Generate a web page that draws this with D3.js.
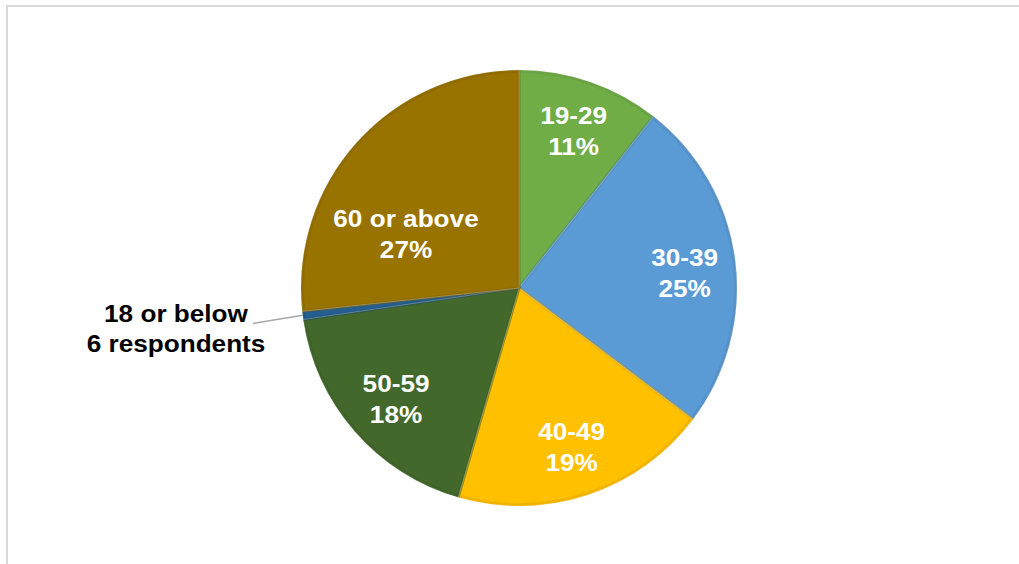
<!DOCTYPE html>
<html><head><meta charset="utf-8">
<script src="https://cdn.jsdelivr.net/npm/d3@7"></script>
<style>html,body{margin:0;padding:0;background:#fff;}svg{display:block;}</style>
</head><body>
<svg id="chart" width="1019" height="564"></svg>
<script>
const categories = ["19-29", "30-39", "40-49", "50-59", "18 or below", "60 or above"];
const values = [10.6, 24.7, 19.2, 18.2, 0.6, 26.7];
const valueLabels = ["11%", "25%", "19%", "18%", "6 respondents", "27%"];
const colors = ["#70AD47", "#5B9BD5", "#FFC000", "#43682B", "#255E91", "#997300"];

const svg = d3.select("#chart");
// frame
svg.append("path").attr("d", "M7,564 V6 H1019").attr("fill", "none")
  .attr("stroke", "#d9d9d9").attr("stroke-width", 2);

const cx = 519, cy = 288, R = 218;
const g = svg.append("g").attr("transform", `translate(${cx},${cy})`);
const pie = d3.pie().sort(null).value(d => d)(values);
const arc = d3.arc().innerRadius(0).outerRadius(R);
const color = d3.scaleOrdinal().domain(categories).range(colors);

const slices = g.selectAll("g.slice").data(pie).enter().append("g");
slices.append("path").attr("d", arc)
  .attr("fill", (d, i) => color(categories[i]))
  .attr("stroke", "#ffffff").attr("stroke-opacity", 0.35).attr("stroke-width", 1);
// soft bevel edge
slices.append("path").attr("d", d3.arc().innerRadius(0).outerRadius(R - 1.5))
  .attr("fill", "none")
  .attr("stroke", (d, i) => d3.color(color(categories[i])).darker(0.4))
  .attr("stroke-opacity", 0.45).attr("stroke-width", 3);

function twoLine(parent, x, y1, gap, l1, l2, fill) {
  const tg = parent.append("g").attr("transform", `translate(${x},0) scale(1.09,1)`);
  const t = tg.append("text").attr("text-anchor", "middle")
    .attr("font-family", "Liberation Sans, Arial, sans-serif").attr("font-weight", "bold")
    .attr("font-size", 24).attr("fill", fill);
  t.append("tspan").attr("x", 0).attr("y", y1).text(l1);
  t.append("tspan").attr("x", 0).attr("y", y1 + gap).text(l2);
}

const labelArc = d3.arc().innerRadius(167).outerRadius(167);
const nudge = {"30-39": [0, 5], "50-59": [3, 0]};
pie.forEach((d, i) => {
  const name = categories[i];
  if (name === "18 or below") {
    const a = (d.startAngle + d.endAngle) / 2;
    const px = R * Math.sin(a), py = -R * Math.cos(a);
    g.append("line").attr("x1", px).attr("y1", py).attr("x2", 253 - cx).attr("y2", 323.5 - cy)
      .attr("stroke", "#a6a6a6").attr("stroke-width", 1.5);
    twoLine(svg, 176, 322, 30, name, valueLabels[i], "#000");
    return;
  }
  let [x, y] = labelArc.centroid(d);
  if (name === "60 or above") { x = -113; y = -55; }
  const n = nudge[name] || [0, 0];
  x += n[0]; y += n[1];
  twoLine(g, x, y - 6, 31, name, valueLabels[i], "#fff");
});
</script>
</body></html>
